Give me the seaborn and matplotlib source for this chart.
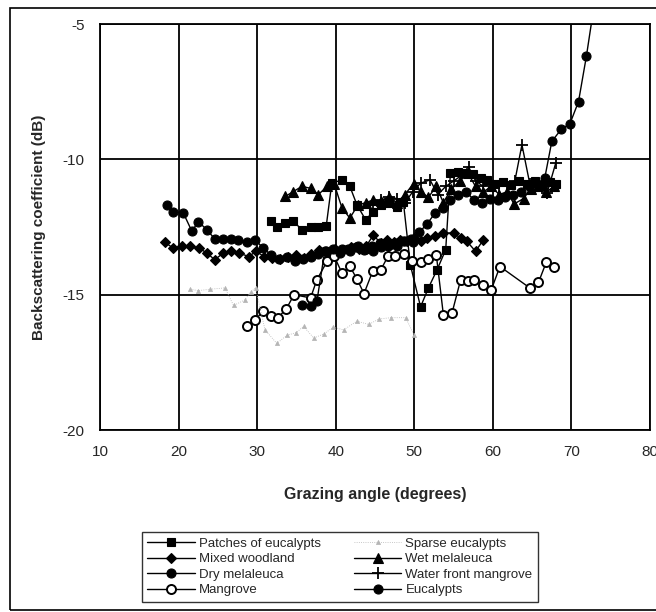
import matplotlib
matplotlib.use("Agg")
import matplotlib.pyplot as plt
import seaborn as sns
import pandas as pd
from matplotlib.patches import Rectangle

# ---------------- data ----------------
patches_x = [31.7, 32.5, 33.6, 34.6, 35.7, 36.8, 37.8, 38.8, 39.5, 40.8, 41.8, 42.7, 43.8, 44.8, 45.8,
             46.8, 47.8, 48.6, 49.5, 50.8, 51.8, 52.9, 54.0, 54.6, 55.5, 56.5, 57.5, 58.5, 59.3,
             60.3, 61.3, 62.3, 63.3, 64.3, 65.3, 66.3, 67.3, 68.0]
patches_y = [-12.29, -12.5, -12.36, -12.29, -12.6, -12.5, -12.5, -12.45, -10.88, -10.76, -11.0, -11.68,
             -12.23, -11.93, -11.7, -11.6, -11.75, -11.56, -13.9, -15.45, -14.75, -14.08, -13.34,
             -10.5, -10.45, -10.5, -10.55, -10.7, -10.75, -10.9, -10.85, -10.95, -10.8, -10.9, -10.8,
             -10.95, -10.85, -10.9]

mixed_x = [18.3, 19.3, 20.4, 21.5, 22.6, 23.6, 24.6, 25.7, 26.7, 27.7, 28.9, 29.9, 30.9, 31.9, 32.9,
           33.9, 34.9, 35.9, 36.9, 37.9, 38.9, 39.9, 40.9, 41.9, 42.9, 43.9, 44.8, 45.7, 46.5, 47.4,
           48.2, 49.1, 49.9, 50.8, 51.6, 52.6, 53.7, 55.0, 55.9, 56.7, 57.8, 58.8]
mixed_y = [-13.07, -13.28, -13.22, -13.22, -13.28, -13.46, -13.71, -13.46, -13.4, -13.46, -13.59, -13.4,
           -13.6, -13.65, -13.7, -13.6, -13.55, -13.65, -13.5, -13.35, -13.45, -13.3, -13.35, -13.25,
           -13.3, -13.2, -12.79, -13.1, -12.97, -13.05, -12.97, -13.0, -12.91, -13.0, -12.9, -12.85,
           -12.72, -12.72, -12.91, -13.03, -13.4, -12.97]

dry_x = [18.5, 19.3, 20.6, 21.7, 22.5, 23.6, 24.6, 25.7, 26.7, 27.5, 28.7, 29.7, 30.8, 31.8, 32.8,
         33.8, 34.8, 35.8, 36.8, 37.8, 38.8, 39.8, 40.8, 41.8, 42.8, 43.8, 44.8, 45.8, 46.8, 47.8,
         48.8, 49.8]
dry_y = [-11.68, -11.93, -11.98, -12.66, -12.3, -12.6, -12.94, -12.94, -12.94, -12.98, -13.07, -12.97,
         -13.28, -13.55, -13.7, -13.6, -13.75, -13.7, -13.6, -13.5, -13.4, -13.55, -13.3, -13.4, -13.2,
         -13.3, -13.4, -13.25, -13.15, -13.2, -13.0, -13.05]

mangrove_x = [28.7, 29.7, 30.8, 31.7, 32.6, 33.7, 34.7, 36.8, 37.6, 38.9, 39.8, 40.8, 41.8, 42.7, 43.6,
              44.7, 45.7, 46.7, 47.6, 48.7, 49.7, 50.8, 51.8, 52.8, 53.7, 54.8, 55.9, 56.8, 57.6, 58.7,
              59.8, 60.9, 64.7, 65.8, 66.8, 67.8]
mangrove_y = [-16.17, -15.92, -15.62, -15.8, -15.86, -15.53, -15.0, -15.12, -14.45, -13.77, -13.58, -14.2,
              -13.95, -14.42, -14.96, -14.14, -14.1, -13.56, -13.56, -13.5, -13.75, -13.8, -13.7, -13.52,
              -15.74, -15.68, -14.45, -14.51, -14.45, -14.63, -14.82, -13.96, -14.75, -14.55, -13.8, -13.96]

sparse_x = [21.5, 22.5, 24.0, 25.9, 27.0, 28.4, 29.2, 29.8, 31.0, 32.5, 33.8, 35.0, 35.9, 37.2, 38.5,
            39.7, 41.0, 42.7, 44.2, 45.5, 47.0, 48.9, 50.0]
sparse_y = [-14.8, -14.85, -14.8, -14.75, -15.4, -15.2, -14.9, -14.75, -16.3, -16.8, -16.5, -16.4,
            -16.17, -16.6, -16.45, -16.2, -16.3, -15.98, -16.1, -15.9, -15.85, -15.85, -16.5]

wet_x = [33.6, 34.6, 35.7, 36.8, 37.8, 38.9, 39.8, 40.8, 41.8, 42.8, 43.8, 44.8, 45.8, 46.8, 47.8, 48.8,
         49.9, 50.8, 51.8, 52.8, 53.7, 54.7, 55.8, 56.8, 57.8, 58.8, 59.8, 60.8, 61.8, 62.7, 63.9, 64.8,
         65.8, 66.8, 67.8]
wet_y = [-11.37, -11.19, -11.0, -11.07, -11.3, -11.0, -10.9, -11.8, -12.17, -11.7, -11.6, -11.5, -11.55,
         -11.4, -11.6, -11.3, -10.9, -11.2, -11.4, -11.0, -11.6, -11.1, -10.8, -10.5, -11.0, -11.2,
         -11.0, -11.3, -11.2, -11.65, -11.45, -11.1, -11.0, -11.2, -11.0]

water_x = [44.8, 45.8, 46.8, 47.8, 48.8, 49.8, 50.8, 52.0, 53.0, 54.0, 55.0, 56.0, 56.9, 57.8, 58.8,
           59.8, 60.8, 61.8, 62.8, 63.7, 64.7, 65.8, 66.9, 68.0]
water_y = [-11.6, -11.5, -11.4, -11.45, -11.6, -11.2, -10.88, -10.76, -11.3, -11.0, -10.8, -10.6, -10.27,
           -10.8, -11.0, -10.9, -11.0, -10.9, -10.8, -9.46, -10.9, -11.0, -11.25, -10.14]

euc_x = [35.7, 36.8, 37.6, 38.6, 39.6, 40.6, 41.6, 42.6, 43.6, 44.6, 45.6, 46.6, 47.6, 48.6, 49.6, 50.6,
         51.6, 52.6, 53.6, 54.6, 55.6, 56.6, 57.6, 58.6, 59.6, 60.6, 61.6, 62.6, 63.6, 64.6, 65.6, 66.6,
         67.5, 68.7, 69.8, 70.9, 71.9, 73.1]
euc_y = [-15.37, -15.43, -15.25, -13.4, -13.3, -13.45, -13.3, -13.25, -13.35, -13.2, -13.1, -13.2, -13.1,
         -13.0, -12.95, -12.7, -12.4, -12.0, -11.8, -11.5, -11.3, -11.2, -11.5, -11.6, -11.45, -11.5,
         -11.4, -11.3, -11.2, -11.0, -10.9, -10.7, -9.34, -8.89, -8.69, -7.87, -6.2, -3.9]

x_ticks = [10, 20, 30, 40, 50, 60, 70, 80]
y_ticks = [-20, -15, -10, -5]

# ---------------- figure ----------------
sns.set_style("white")
plt.rcParams['font.family'] = ['Liberation Sans', 'DejaVu Sans']

fig = plt.figure(figsize=(6.56, 6.12), dpi=100)
ax = fig.add_axes([100 / 656, 1 - 430 / 612, 550 / 656, 406 / 612])

K = 'black'
series = [
    ("Patches of eucalypts", patches_x, patches_y,
     dict(marker='s', markersize=6, color=K, markeredgecolor=K, markeredgewidth=0.8)),
    ("Mixed woodland", mixed_x, mixed_y,
     dict(marker='D', markersize=5.5, color=K, markeredgecolor=K, markeredgewidth=0.8)),
    ("Dry melaleuca", dry_x, dry_y,
     dict(marker='o', markersize=6.5, color=K, markeredgecolor=K, markeredgewidth=0.8)),
    ("Mangrove", mangrove_x, mangrove_y,
     dict(marker='o', markersize=6.5, color=K, markerfacecolor='white', markeredgecolor=K,
          markeredgewidth=1.4)),
    ("Sparse eucalypts", sparse_x, sparse_y,
     dict(marker='^', markersize=3, color='#b5b5b5', markeredgecolor='#b5b5b5', markeredgewidth=0.5,
          linestyle=':', linewidth=0.6)),
    ("Wet melaleuca", wet_x, wet_y,
     dict(marker='^', markersize=7, color=K, markeredgecolor=K, markeredgewidth=0.8)),
    ("Water front mangrove", water_x, water_y,
     dict(marker='+', markersize=9, markeredgewidth=1.3, color=K, markeredgecolor=K)),
    ("Eucalypts", euc_x, euc_y,
     dict(marker='o', markersize=6.5, color=K, markeredgecolor=K, markeredgewidth=0.8)),
]

for name, xs, ys, kw in series:
    df = pd.DataFrame({"x": xs, "y": ys})
    lw = kw.pop('linewidth', 1.0)
    sns.lineplot(data=df, x="x", y="y", ax=ax, sort=False, estimator=None, label=name,
                 linewidth=lw, **kw)

ax.set_xlim(10, 80)
ax.set_ylim(-20, -5)
ax.set_xticks(x_ticks)
ax.set_yticks(y_ticks)
ax.set_xticklabels([str(v) for v in x_ticks], fontsize=11)
ax.set_yticklabels([str(v) for v in y_ticks], fontsize=11)
ax.grid(True, color='black', linewidth=1.3)
for s in ax.spines.values():
    s.set_color('black')
    s.set_linewidth(1.3)
ax.tick_params(axis='both', direction='out', length=5, width=1, color='black', pad=6)
ax.set_xlabel("Grazing angle (degrees)", fontsize=11.5, fontweight='bold', labelpad=20)
ax.set_ylabel("Backscattering coefficient (dB)", fontsize=11, fontweight='bold', labelpad=12)

handles, labels = ax.get_legend_handles_labels()
ax.get_legend().remove()
leg = fig.legend(handles, labels, loc='center', bbox_to_anchor=(340 / 656, 1 - 567 / 612), ncol=2,
                 fontsize=9.5, frameon=True, fancybox=False, edgecolor='black', handlelength=3.6,
                 columnspacing=2.5, labelspacing=0.25, borderpad=0.4, handletextpad=0.3)
leg.get_frame().set_linewidth(1.0)

fig.patches.append(Rectangle((10 / 656, 2 / 612), 0.99, 1 - 10 / 612, transform=fig.transFigure,
                             fill=False, edgecolor='black', linewidth=1.2, clip_on=False))

fig.savefig("out.png", dpi=100)
